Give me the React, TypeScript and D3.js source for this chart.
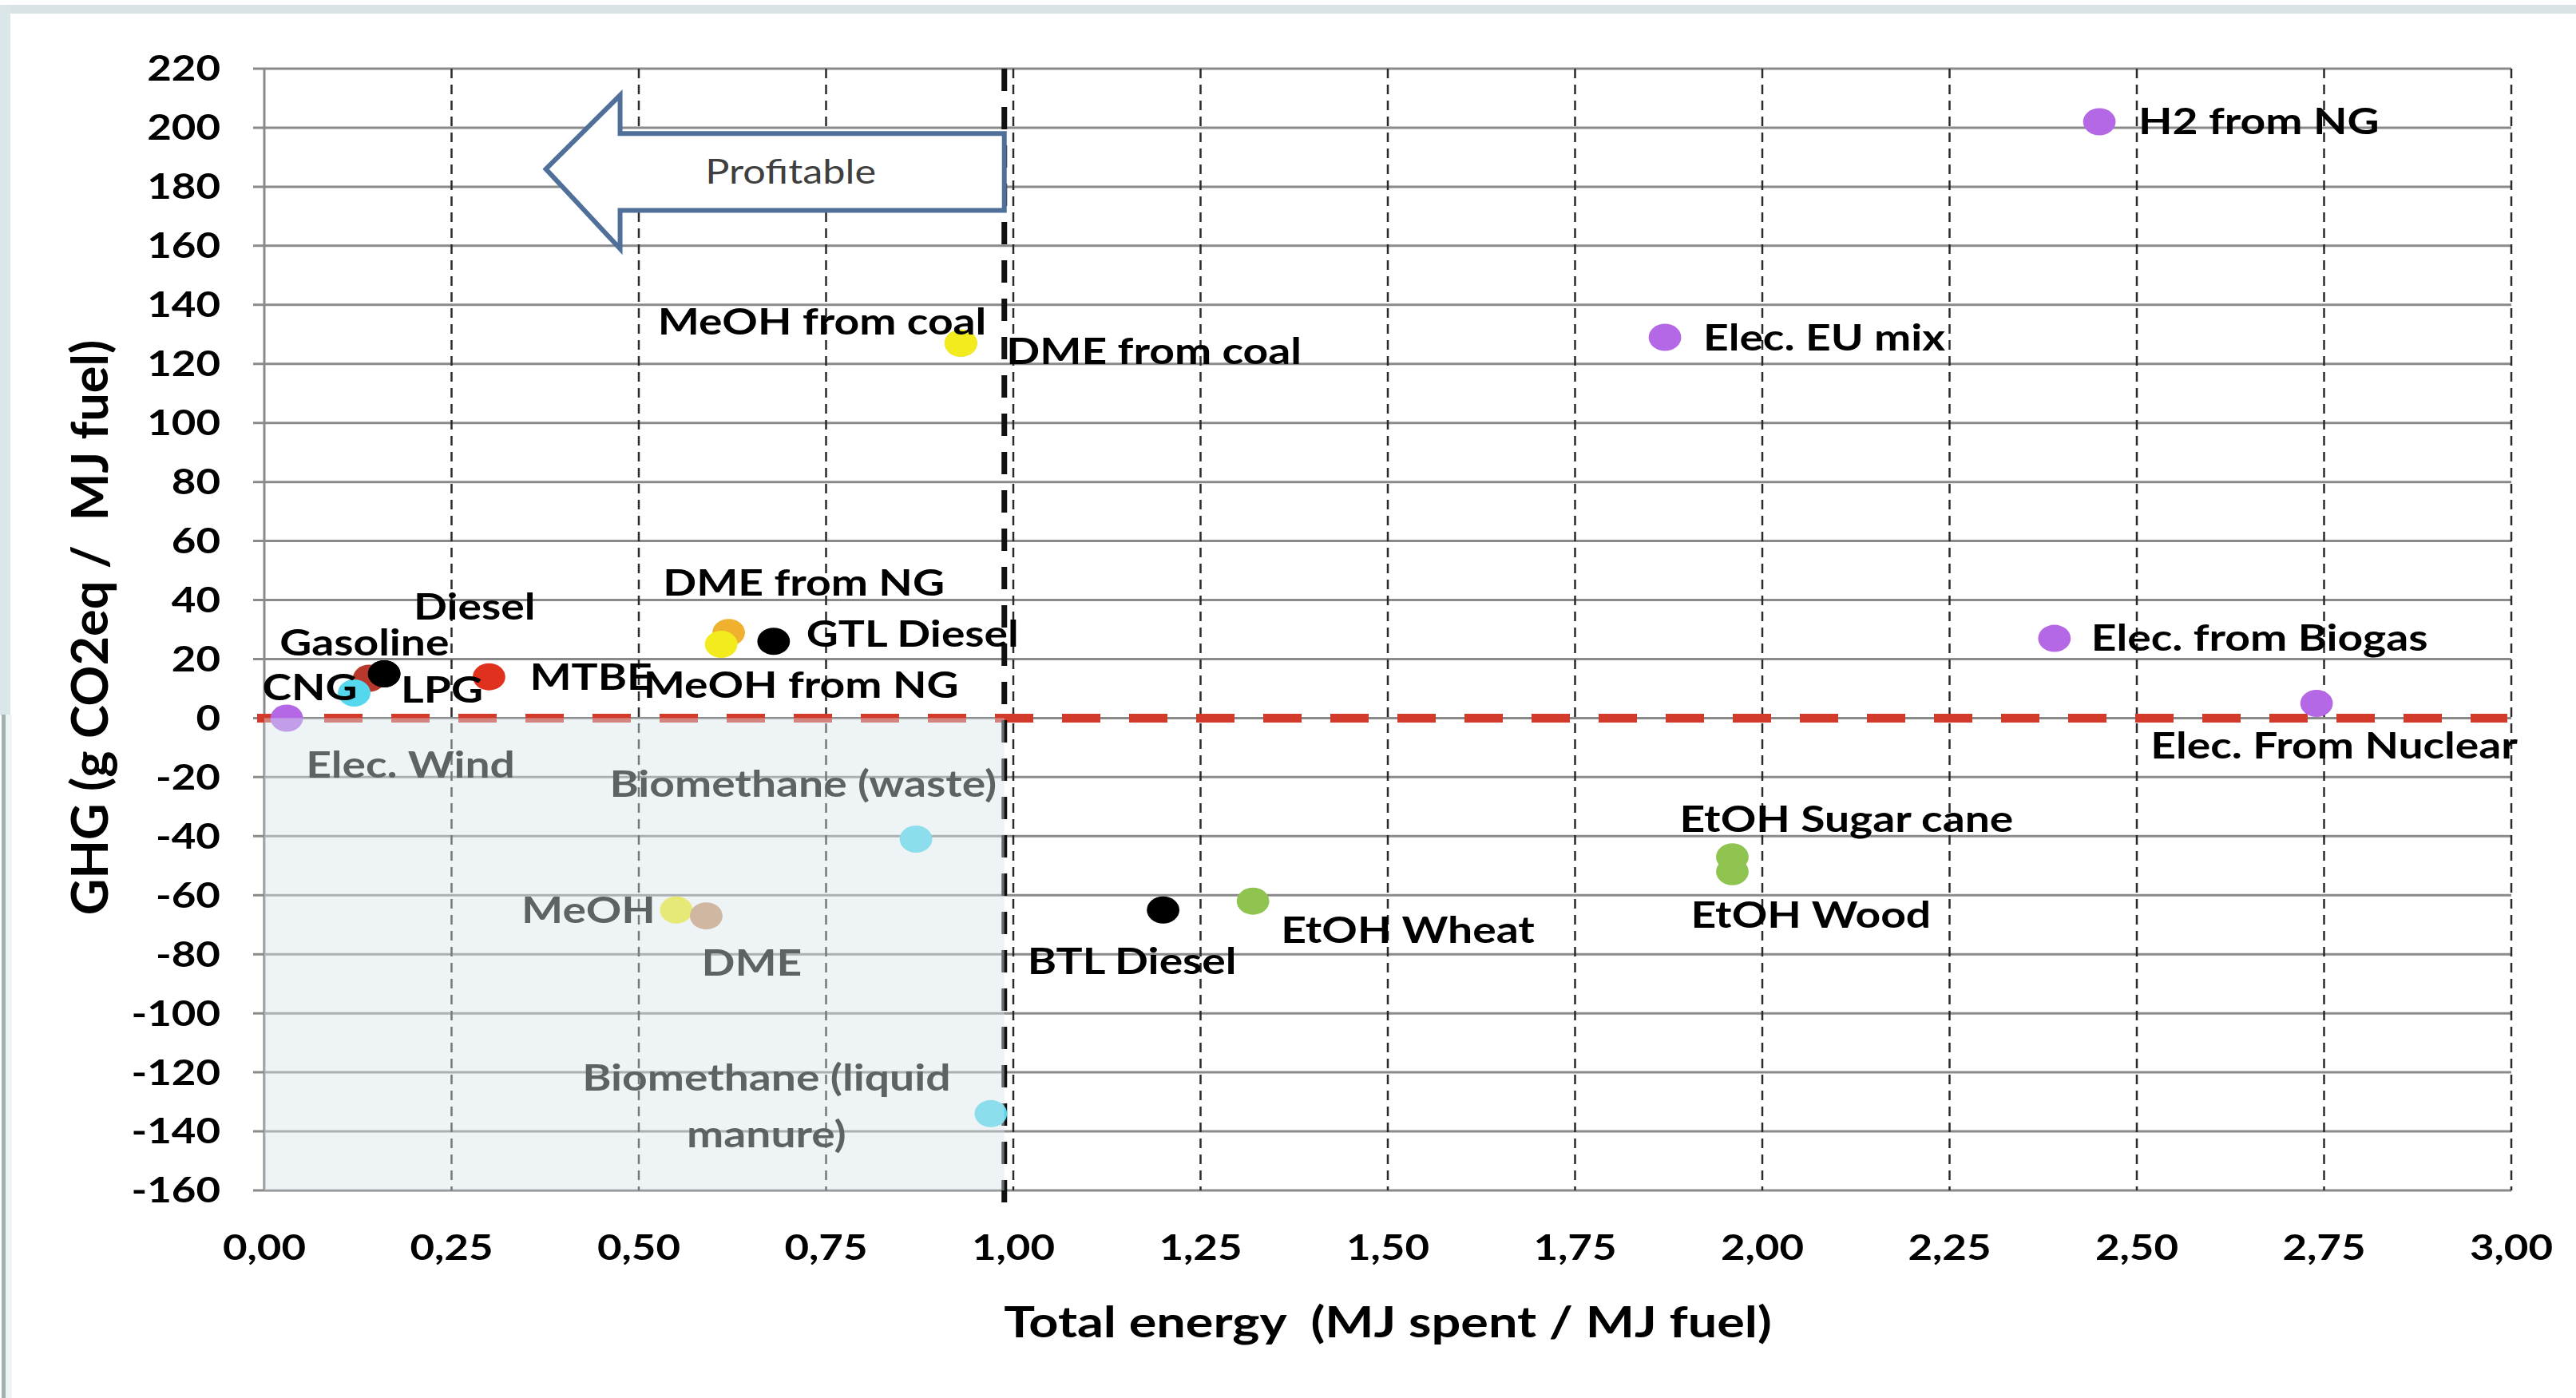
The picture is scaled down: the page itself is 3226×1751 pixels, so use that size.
import React from "react";
import * as d3 from "d3";

// ---------- data ----------
const names = [
  "H2 from NG", "Elec. EU mix", "Elec. from Biogas", "Elec. From Nuclear", "Elec. Wind",
  "DME from coal", "MeOH from coal", "DME from NG", "MeOH from NG", "GTL Diesel",
  "MTBE", "LPG", "Gasoline", "Diesel", "CNG",
  "Biomethane (waste)", "MeOH", "DME", "Biomethane (liquid manure)",
  "BTL Diesel", "EtOH Wheat", "EtOH Sugar cane", "EtOH Wood",
];
const totalEnergy = [
  2.45, 1.87, 2.39, 2.74, 0.03,
  0.93, 0.93, 0.62, 0.61, 0.68,
  0.30, 0.16, 0.14, 0.16, 0.12,
  0.87, 0.55, 0.59, 0.97,
  1.20, 1.32, 1.96, 1.96,
];
const ghg = [
  202, 129, 27, 5, 0,
  127, 127, 29, 25, 26,
  14, 15, 13.5, 15, 8.5,
  -41, -65, -67, -134,
  -65, -62, -47, -52,
];
const family = [
  "elec", "elec", "elec", "elec", "elec",
  "dmeFossil", "methanol", "dmeFossil", "methanol", "diesel",
  "mtbe", "lpg", "gasoline", "diesel", "gas",
  "gas", "methanol", "dmeBio", "gas",
  "diesel", "ethanol", "ethanol", "ethanol",
];

const xTickValues = [0, 0.25, 0.5, 0.75, 1, 1.25, 1.5, 1.75, 2, 2.25, 2.5, 2.75, 3];
const xTickLabels = ["0,00", "0,25", "0,50", "0,75", "1,00", "1,25", "1,50", "1,75", "2,00", "2,25", "2,50", "2,75", "3,00"];
const yTickValues = [220, 200, 180, 160, 140, 120, 100, 80, 60, 40, 20, 0, -20, -40, -60, -80, -100, -120, -140, -160];

const xTitle = "Total energy  (MJ spent / MJ fuel)";
const yTitle = "GHG (g CO2eq /  MJ fuel)";
const arrowText = "Profitable";

// annotation geometry in data units
const breakEven = 0.988; // thick dashed separator
const arrowTip = [0.376, 186];
const arrowHeadX = 0.475;
const arrowHeadTop = 211;
const arrowHeadBottom = 159;
const arrowShaftTop = 198;
const arrowShaftBottom = 172;

// ---------- styles ----------
const colorOf: Record<string, string> = {
  elec: "#b468e6",
  dmeFossil: "#f0b22e",
  methanol: "#f2ec1e",
  diesel: "#000000",
  mtbe: "#e0301e",
  lpg: "#000000",
  gasoline: "#b8392c",
  gas: "#55d8ee",
  dmeBio: "#c8956a",
  ethanol: "#8fc450",
};

// label placement: [dx, dy, anchor] in px from the dot
const labelPlace: Record<string, [number, number, string]> = {
  "H2 from NG": [49, -1, "start"],
  "Elec. EU mix": [48, 0, "start"],
  "Elec. from Biogas": [46, -1, "start"],
  "Elec. From Nuclear": [22, 53, "middle"],
  "Elec. Wind": [24, 58, "start"],
  "DME from coal": [57, 10, "start"],
  "MeOH from coal": [32, -27, "end"],
  "DME from NG": [94, -62, "middle"],
  "MeOH from NG": [100, 51, "middle"],
  "GTL Diesel": [41, -9, "start"],
  "MTBE": [51, 0, "start"],
  "LPG": [21, 20, "start"],
  "Gasoline": [-6, -45, "middle"],
  "Diesel": [37, -84, "start"],
  "CNG": [4, -7, "end"],
  "Biomethane (waste)": [101, -69, "end"],
  "MeOH": [-26, 0, "end"],
  "DME": [57, 59, "middle"],
  "Biomethane (liquid manure)": [-281, -45, "middle"],
  "BTL Diesel": [-39, 64, "middle"],
  "EtOH Wheat": [35, 36, "start"],
  "EtOH Sugar cane": [-66, -47, "start"],
  "EtOH Wood": [-52, 54, "start"],
};
const labelLines: Record<string, string[]> = {
  "Biomethane (liquid manure)": ["Biomethane (liquid", "manure)"],
};

const W = 3226;
const H = 1751;
const S = 1.2; // horizontal stretch of glyphs and dots in the source picture
const FONT = "Lato, 'Open Sans', sans-serif";
const R = 17;

const x = d3.scaleLinear().domain([0, 3]).range([331, 3145]);
const y = d3.scaleLinear().domain([-160, 220]).range([1491, 86]);

function T(props: {
  x: number; y: number; anchor?: string; size: number; weight?: number; fill?: string;
  rotate?: number; sx?: number; children: React.ReactNode;
}) {
  const { anchor = "start", size, weight = 700, fill = "#000", rotate = 0, sx = S } = props;
  return (
    <text
      transform={`translate(${props.x},${props.y}) scale(${sx},1)${rotate ? ` rotate(${rotate})` : ""}`}
      textAnchor={anchor}
      dy="0.35em"
      fontSize={size}
      fontWeight={weight}
      fill={fill}
      fontFamily={FONT}
      style={{ whiteSpace: "pre" }}
    >
      {props.children}
    </text>
  );
}

export default function App() {
  const points = names.map((n, i) => ({
    name: n,
    px: x(totalEnergy[i]),
    py: y(ghg[i]),
    color: colorOf[family[i]],
  }));

  const arrowPts = [
    [x(arrowTip[0]), y(arrowTip[1])],
    [x(arrowHeadX), y(arrowHeadTop)],
    [x(arrowHeadX), y(arrowShaftTop)],
    [x(breakEven), y(arrowShaftTop)],
    [x(breakEven), y(arrowShaftBottom)],
    [x(arrowHeadX), y(arrowShaftBottom)],
    [x(arrowHeadX), y(arrowHeadBottom)],
  ];
  const arrowPath = d3.line()(arrowPts as [number, number][]) + "Z";

  return (
    <svg
      width={W}
      height={H}
      viewBox={`0 0 ${W} ${H}`}
      style={{ position: "absolute", left: 0, top: 0, background: "#fff" }}
    >
      <rect x={0} y={0} width={W} height={H} fill="#ffffff" />
      {/* frame */}
      <rect x={0} y={6} width={W} height={11} fill="#d7e3e5" />
      <rect x={0} y={6} width={13} height={890} fill="#dae6e7" />
      <rect x={2} y={895} width={5} height={H - 895} fill="#9fb2af" />
      <rect x={7} y={895} width={8} height={H - 895} fill="#eef4f3" />

      {/* horizontal gridlines */}
      {yTickValues.map((v) => (
        <line key={"h" + v} x1={317} x2={x(3)} y1={y(v)} y2={y(v)} stroke="#8a8a8a" strokeWidth={3} />
      ))}
      {/* y axis */}
      <line x1={x(0)} x2={x(0)} y1={y(220)} y2={y(-160)} stroke="#8a8a8a" strokeWidth={3} />
      {/* vertical dashed gridlines */}
      {xTickValues.slice(1).map((v) => (
        <line key={"v" + v} x1={x(v)} x2={x(v)} y1={y(220)} y2={y(-160)} stroke="#2a2a2a" strokeWidth={2.5} strokeDasharray="12 8" />
      ))}

      {/* zero reference line */}
      <line x1={322} x2={3140} y1={y(0)} y2={y(0)} stroke="#d23a2c" strokeWidth={11} strokeDasharray="48 36" />

      {/* break-even separator */}
      <line x1={x(breakEven)} x2={x(breakEven)} y1={y(220)} y2={1508} stroke="#111" strokeWidth={7} strokeDasharray="28 20" />

      {/* arrow */}
      <path d={arrowPath} fill="#ffffff" stroke="#50709a" strokeWidth={6} strokeLinejoin="miter" />
      <T x={(x(arrowHeadX) + x(breakEven)) / 2 - 27} y={(y(arrowShaftTop) + y(arrowShaftBottom)) / 2} anchor="middle" size={42} weight={400} fill="#3f3f3f">
        {arrowText}
      </T>

      {/* points */}
      {points.map((p) => (
        <ellipse key={"p" + p.name} cx={p.px} cy={p.py} rx={R * S} ry={R} fill={p.color} />
      ))}

      {/* labels */}
      {points.map((p) => {
        const [dx, dy, anchor] = labelPlace[p.name];
        const lines = labelLines[p.name] || [p.name];
        return lines.map((ln, j) => (
          <T key={"l" + p.name + j} x={p.px + dx} y={p.py + dy + j * 71} anchor={anchor} size={46}>
            {ln}
          </T>
        ));
      })}

      {/* profitable area shading */}
      <rect
        x={x(0)}
        y={y(0)}
        width={x(breakEven) - x(0)}
        height={y(-160) - y(0)}
        fill="rgb(216,230,235)"
        fillOpacity={0.43}
      />

      {/* y tick labels */}
      {yTickValues.map((v) => (
        <T key={"yt" + v} x={276} y={y(v)} anchor="end" size={44}>
          {String(v)}
        </T>
      ))}
      {/* x tick labels */}
      {xTickValues.map((v, i) => (
        <T key={"xt" + v} x={x(v)} y={1563} anchor="middle" size={44}>
          {xTickLabels[i]}
        </T>
      ))}

      {/* axis titles */}
      <T x={1738} y={1656} anchor="middle" size={54}>
        {xTitle}
      </T>
      <T x={113} y={786} anchor="middle" size={63} sx={1} rotate={-90}>
        {yTitle}
      </T>
    </svg>
  );
}
